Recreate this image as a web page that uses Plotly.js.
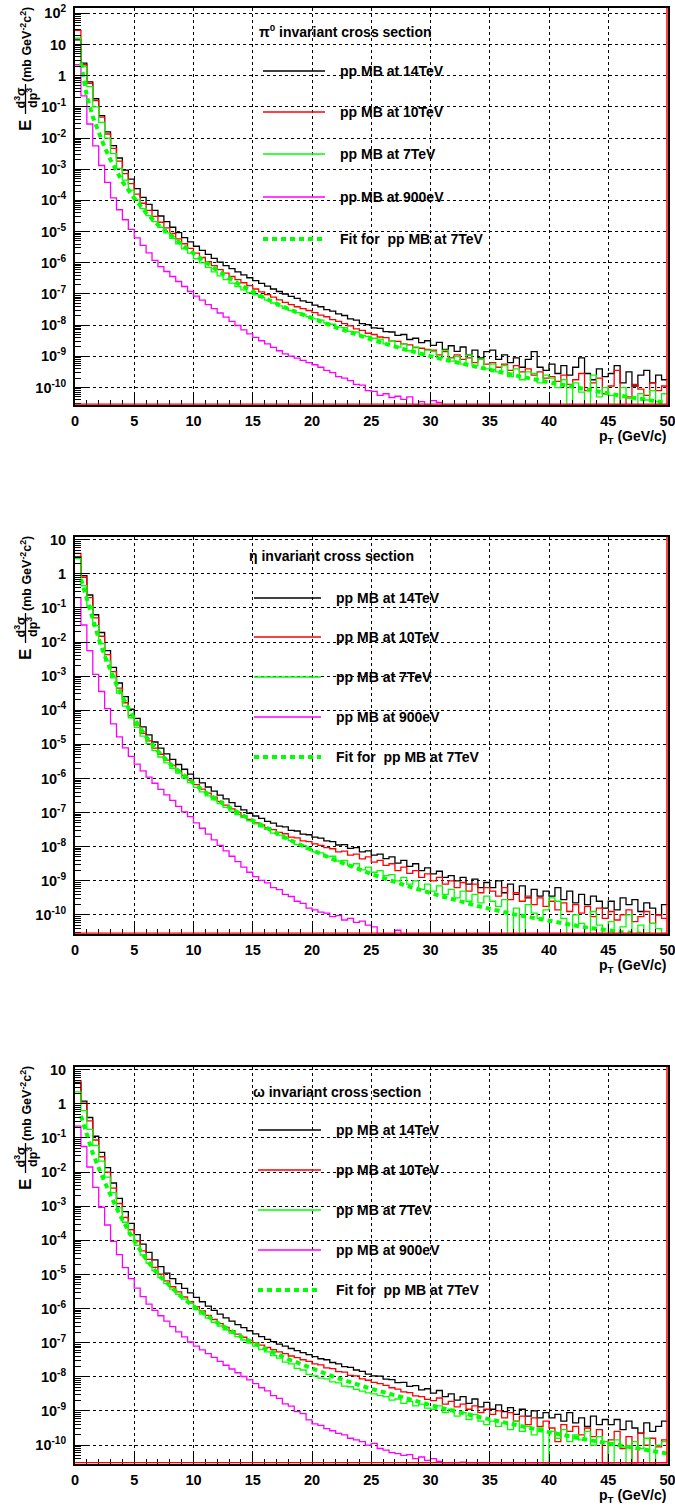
<!DOCTYPE html>
<html>
<head>
<meta charset="utf-8">
<script src="https://cdn.plot.ly/plotly-3.0.1.min.js"></script>
<style>
html,body{margin:0;padding:0;background:#ffffff;}
#chart{width:675px;height:1510px;}
</style>
</head>
<body>
<div id="chart"></div>
<script>
// ---------------- categories / tick labels ----------------
// pT bin edges (GeV/c), 0.5 GeV wide bins from 0 to 50
const pT_edges = Array.from({length: 101}, (_, i) => i * 0.5);
// pT points where the fit curve is sampled
const fit_pT = [0.5,1,1.5,2,2.5,3,3.5,4,5,6,7,8,9,10,11,12,14,16,18,20,22,25,28,31,34,37,40,43,46,50];

const x_tick_values = [0,5,10,15,20,25,30,35,40,45,50];
const x_tick_labels = ["0","5","10","15","20","25","30","35","40","45","50"];
const y_tick_values_pi0 = [1e2,1e1,1,1e-1,1e-2,1e-3,1e-4,1e-5,1e-6,1e-7,1e-8,1e-9,1e-10];
const y_tick_labels_pi0 = ["10<sup>2</sup>","10","1","10<sup>-1</sup>","10<sup>-2</sup>","10<sup>-3</sup>","10<sup>-4</sup>","10<sup>-5</sup>","10<sup>-6</sup>","10<sup>-7</sup>","10<sup>-8</sup>","10<sup>-9</sup>","10<sup>-10</sup>"];
const y_tick_values_meson = [1e1,1,1e-1,1e-2,1e-3,1e-4,1e-5,1e-6,1e-7,1e-8,1e-9,1e-10];
const y_tick_labels_meson = ["10","1","10<sup>-1</sup>","10<sup>-2</sup>","10<sup>-3</sup>","10<sup>-4</sup>","10<sup>-5</sup>","10<sup>-6</sup>","10<sup>-7</sup>","10<sup>-8</sup>","10<sup>-9</sup>","10<sup>-10</sup>"];

const series_labels = ["pp MB at 14TeV","pp MB at 10TeV","pp MB at 7TeV","pp MB at 900eV","Fit for\u00a0 pp MB at 7TeV"];
const panel_titles = ["\u03c0<sup>0</sup> invariant cross section","\u03b7 invariant cross section","\u03c9 invariant cross section"];

// ---------------- values: log10 of E d3sigma/dp3 per pT bin (null = empty bin) ----------------
const pi0_14TeV = [
1.15,0.4,-0.2,-0.74,-1.28,-1.8,-2.24,-2.64,-3.03,-3.32,
-3.62,-3.9,-4.13,-4.32,-4.5,-4.68,-4.86,-5.03,-5.19,-5.33,
-5.47,-5.6,-5.73,-5.86,-5.98,-6.09,-6.19,-6.29,-6.39,-6.48,
-6.57,-6.66,-6.75,-6.84,-6.92,-7.0,-7.08,-7.14,-7.22,-7.27,
-7.36,-7.41,-7.5,-7.55,-7.64,-7.69,-7.8,-7.84,-7.95,-7.98,
-8.09,-8.1,-8.21,-8.22,-8.33,-8.3,-8.46,-8.42,-8.56,-8.5,
-8.65,-8.55,-8.78,-8.66,-8.84,-8.7,-8.95,-8.8,-9.05,-8.85,
-8.8,-9.1,-8.95,-9.2,-9.05,-9.35,-9.1,-8.85,-9.35,-9.45,
-9.25,-9.55,-9.3,-9.6,-9.35,-9.05,-9.55,-9.75,-9.4,-9.65,
-9.55,-9.3,-9.85,-9.5,-9.95,-9.6,-9.45,-9.85,-9.6,-9.75];
const pi0_10TeV = [
1.45,0.35,-0.25,-0.8,-1.33,-1.87,-2.33,-2.74,-3.14,-3.46,
-3.8,-4.09,-4.32,-4.51,-4.7,-4.88,-5.06,-5.23,-5.39,-5.54,
-5.69,-5.83,-5.96,-6.09,-6.22,-6.33,-6.44,-6.54,-6.64,-6.73,
-6.84,-6.93,-7.02,-7.1,-7.19,-7.27,-7.34,-7.41,-7.47,-7.53,
-7.6,-7.68,-7.73,-7.82,-7.88,-7.95,-8.02,-8.12,-8.17,-8.26,
-8.3,-8.38,-8.4,-8.5,-8.52,-8.6,-8.63,-8.72,-8.74,-8.78,
-8.8,-8.95,-8.85,-9.05,-8.95,-9.1,-9.05,-9.2,-9.1,-9.25,
-9.2,-9.35,-9.25,-9.45,-9.3,-9.5,-9.4,-9.6,-9.5,-9.7,
-9.65,-9.8,-9.6,-9.9,-9.75,-9.55,-10.1,-9.85,-9.7,-10.2,
-9.95,-9.45,null,-10.3,-9.9,-10.05,-10.25,-9.85,-10.1,-9.95];
const pi0_7TeV = [
1.2,0.3,-0.35,-1.0,-1.5,-2.0,-2.5,-2.97,-3.35,-3.67,
-3.98,-4.26,-4.49,-4.68,-4.86,-5.04,-5.22,-5.39,-5.55,-5.69,
-5.87,-6.0,-6.15,-6.29,-6.42,-6.54,-6.65,-6.76,-6.87,-6.96,
-7.03,-7.11,-7.2,-7.29,-7.38,-7.46,-7.53,-7.6,-7.67,-7.73,
-7.8,-7.84,-7.93,-7.97,-8.06,-8.08,-8.2,-8.22,-8.33,-8.36,
-8.42,-8.45,-8.6,-8.5,-8.7,-8.6,-8.82,-8.7,-8.95,-8.8,
-8.85,-9.05,-8.8,-9.15,-9.0,-9.25,-8.95,-9.3,-9.1,-9.4,
-9.25,-9.5,-9.3,-9.65,-9.4,-9.75,-9.5,-9.55,-9.85,-9.6,
-9.7,-10.0,-9.75,null,-9.85,-10.15,null,-9.6,-10.3,-10.0,
-10.25,null,-10.0,-10.35,null,-10.2,-10.4,-10.1,-10.45,-10.2];
const pi0_900GeV = [
0.35,-0.65,-1.55,-2.25,-2.88,-3.42,-3.92,-4.3,-4.62,-4.93,
-5.2,-5.44,-5.68,-5.92,-6.12,-6.28,-6.44,-6.6,-6.76,-6.92,
-7.07,-7.2,-7.34,-7.47,-7.61,-7.74,-7.88,-8.01,-8.15,-8.28,
-8.39,-8.5,-8.6,-8.71,-8.82,-8.92,-8.99,-9.06,-9.13,-9.2,
-9.27,-9.35,-9.45,-9.52,-9.65,-9.7,-9.78,-9.9,-9.92,-10.1,
-10.12,-10.25,-10.2,-10.32,-10.28,-10.38,-10.3,null,-10.45,null,
-10.42,-10.48,null,null,null,null,null,null,null,null,
null,null,null,null,null,null,null,null,null,null,
null,null,null,null,null,null,null,null,null,null,
null,null,null,null,null,null,null,null,null,null];
const pi0_fit_7TeV = [0.4,-0.65,-1.32,-1.85,-2.3,-2.7,-3.08,-3.4,-3.93,-4.4,-4.78,-5.07,-5.4,-5.7,-5.98,-6.24,-6.72,-7.13,-7.48,-7.78,-8.07,-8.46,-8.8,-9.09,-9.35,-9.6,-9.83,-10.05,-10.26,-10.5];

const eta_14TeV = [
0.5,-0.05,-0.62,-1.2,-1.72,-2.25,-2.74,-3.2,-3.6,-3.97,
-4.24,-4.49,-4.72,-4.93,-5.11,-5.28,-5.44,-5.59,-5.73,-5.87,
-6.0,-6.13,-6.25,-6.37,-6.49,-6.6,-6.71,-6.82,-6.92,-7.02,
-7.1,-7.17,-7.26,-7.31,-7.4,-7.42,-7.52,-7.54,-7.63,-7.65,
-7.72,-7.75,-7.83,-7.85,-7.95,-7.94,-8.05,-8.03,-8.15,-8.12,
-8.25,-8.22,-8.35,-8.3,-8.48,-8.4,-8.58,-8.5,-8.7,-8.62,
-8.8,-8.72,-8.9,-8.85,-9.0,-8.9,-9.1,-8.95,-9.2,-9.05,
-9.2,-9.0,-9.35,-9.1,-9.4,-9.15,-9.5,-9.25,-9.45,-9.3,
-9.45,-9.2,-9.55,-9.3,-9.65,-9.4,-9.7,-9.45,-9.6,-9.8,
-9.6,-9.85,-9.5,-9.7,-9.55,-9.9,-9.65,-9.8,-10.0,-9.7];
const eta_10TeV = [
0.6,-0.1,-0.7,-1.29,-1.83,-2.37,-2.87,-3.35,-3.78,-4.16,
-4.43,-4.68,-4.9,-5.11,-5.29,-5.46,-5.62,-5.77,-5.91,-6.05,
-6.18,-6.31,-6.43,-6.55,-6.67,-6.78,-6.89,-7.0,-7.1,-7.2,
-7.3,-7.36,-7.45,-7.5,-7.58,-7.62,-7.72,-7.74,-7.83,-7.85,
-7.92,-7.96,-8.03,-8.06,-8.15,-8.13,-8.25,-8.22,-8.36,-8.3,
-8.45,-8.4,-8.55,-8.5,-8.7,-8.6,-8.78,-8.7,-8.9,-8.8,
-9.0,-8.9,-9.1,-9.0,-9.2,-9.05,-9.3,-9.1,-9.35,-9.2,
-9.3,-9.45,-9.2,-9.55,-9.35,-9.6,-9.45,-9.7,-9.5,-9.75,
-9.6,-9.85,-9.65,-9.9,-9.7,-9.95,-9.75,-10.05,-9.8,-10.1,
-9.9,-10.15,-10.0,-9.85,-10.2,-10.05,-9.9,-10.25,-10.0,-10.1];
const eta_7TeV = [
0.45,-0.35,-0.95,-1.52,-2.05,-2.55,-3.05,-3.5,-3.88,-4.22,
-4.5,-4.76,-4.98,-5.18,-5.37,-5.54,-5.7,-5.84,-5.98,-6.12,
-6.26,-6.39,-6.51,-6.63,-6.74,-6.85,-6.96,-7.06,-7.15,-7.24,
-7.33,-7.42,-7.49,-7.6,-7.66,-7.76,-7.82,-7.93,-7.97,-8.08,
-8.15,-8.18,-8.3,-8.28,-8.42,-8.4,-8.55,-8.5,-8.68,-8.6,
-8.75,-8.7,-8.85,-8.82,-9.0,-8.9,-9.1,-9.0,-9.25,-9.1,
-9.3,-9.15,-9.4,-9.25,-9.5,-9.3,-9.6,-9.4,-9.65,-9.45,
-9.6,-9.75,-9.55,null,-9.8,null,-9.7,-9.95,-10.1,-9.85,
-9.5,-9.6,-10.1,null,-10.0,-10.25,null,-9.9,-10.3,null,
-10.2,null,-10.35,-10.0,null,-10.3,null,-10.25,-10.4,null];
const eta_900GeV = [
-0.7,-1.5,-2.25,-2.95,-3.45,-3.95,-4.4,-4.78,-5.1,-5.35,
-5.58,-5.78,-5.96,-6.14,-6.32,-6.48,-6.64,-6.82,-6.98,-7.12,
-7.3,-7.46,-7.63,-7.8,-7.96,-8.12,-8.28,-8.44,-8.6,-8.75,
-8.88,-8.99,-9.06,-9.2,-9.26,-9.4,-9.46,-9.6,-9.66,-9.8,
-9.85,-9.92,-9.95,-10.05,-10.02,-10.15,-10.1,-10.22,-10.18,-10.3,
-10.35,null,null,null,-10.45,null,null,null,null,null,
null,null,null,null,null,null,null,null,null,null,
null,null,null,null,null,null,null,null,null,null,
null,null,null,null,null,null,null,null,null,null,
null,null,null,null,null,null,null,null,null,null];
const eta_fit_7TeV = [-0.15,-0.75,-1.35,-1.9,-2.4,-2.85,-3.25,-3.6,-4.25,-4.78,-5.2,-5.56,-5.86,-6.14,-6.4,-6.63,-7.05,-7.43,-7.78,-8.1,-8.4,-8.8,-9.15,-9.46,-9.74,-9.98,-10.18,-10.36,-10.5,-10.62];

const omega_14TeV = [
0.62,0.08,-0.4,-0.95,-1.42,-1.87,-2.32,-2.77,-3.16,-3.5,
-3.83,-4.11,-4.35,-4.57,-4.77,-4.96,-5.12,-5.27,-5.41,-5.54,
-5.67,-5.8,-5.93,-6.05,-6.16,-6.27,-6.37,-6.47,-6.56,-6.65,
-6.74,-6.82,-6.9,-6.97,-7.04,-7.1,-7.17,-7.23,-7.29,-7.35,
-7.41,-7.47,-7.5,-7.58,-7.62,-7.7,-7.72,-7.8,-7.84,-7.92,
-7.97,-7.98,-8.07,-8.08,-8.17,-8.16,-8.28,-8.26,-8.38,-8.35,
-8.48,-8.4,-8.58,-8.5,-8.68,-8.58,-8.78,-8.65,-8.88,-8.75,
-8.95,-8.82,-9.02,-8.9,-9.1,-8.95,-9.15,-9.0,-9.2,-9.05,
-9.2,-9.1,-9.3,-9.05,-9.35,-9.2,-9.45,-9.15,-9.4,-9.25,
-9.4,-9.25,-9.55,-9.3,-9.5,-9.65,-9.35,-9.6,-9.45,-9.3];
const omega_10TeV = [
0.68,0.02,-0.5,-1.06,-1.55,-2.0,-2.47,-2.92,-3.33,-3.69,
-4.02,-4.31,-4.56,-4.79,-4.99,-5.19,-5.36,-5.51,-5.66,-5.8,
-5.94,-6.07,-6.2,-6.32,-6.44,-6.55,-6.65,-6.75,-6.84,-6.93,
-7.0,-7.07,-7.14,-7.2,-7.27,-7.32,-7.39,-7.44,-7.5,-7.55,
-7.62,-7.65,-7.74,-7.76,-7.85,-7.86,-7.96,-7.97,-8.06,-8.1,
-8.16,-8.2,-8.25,-8.32,-8.36,-8.44,-8.46,-8.56,-8.58,-8.66,
-8.7,-8.62,-8.8,-8.72,-8.88,-8.8,-8.95,-8.85,-9.05,-8.95,
-9.1,-9.0,-9.2,-9.05,-9.3,-9.15,-9.4,-9.2,-9.45,-9.3,
-9.5,-9.9,-9.4,-9.6,-9.45,-9.7,-9.5,-9.75,-9.55,null,
-9.85,-9.6,-10.1,-9.75,null,-9.65,-10.0,-9.8,-10.05,-9.85];
const omega_7TeV = [
0.35,-0.2,-0.75,-1.22,-1.68,-2.15,-2.6,-3.05,-3.47,-3.83,
-4.15,-4.43,-4.67,-4.89,-5.09,-5.27,-5.43,-5.58,-5.72,-5.85,
-6.03,-6.16,-6.28,-6.4,-6.51,-6.62,-6.72,-6.82,-6.92,-7.01,
-7.1,-7.2,-7.27,-7.38,-7.45,-7.57,-7.62,-7.75,-7.8,-7.93,
-7.97,-8.04,-8.06,-8.15,-8.18,-8.27,-8.29,-8.37,-8.42,-8.47,
-8.5,-8.55,-8.58,-8.68,-8.65,-8.78,-8.72,-8.85,-8.8,-8.92,
-8.95,-8.85,-9.05,-8.95,-9.15,-9.05,-9.25,-9.1,-9.3,-9.4,
-9.3,-9.45,-9.35,-9.55,-9.3,-9.6,-9.45,-9.7,-9.5,null,
-9.6,-9.8,-9.55,-9.9,-9.7,-9.85,-9.6,-10.0,-9.75,-9.9,
null,-9.85,-10.05,null,-9.9,-10.1,-9.8,null,-10.0,-9.9];
const omega_900GeV = [
-0.65,-1.25,-1.85,-2.45,-3.03,-3.55,-4.03,-4.42,-4.8,-5.12,
-5.4,-5.65,-5.87,-6.05,-6.21,-6.37,-6.53,-6.68,-6.83,-6.98,
-7.1,-7.21,-7.32,-7.43,-7.55,-7.66,-7.77,-7.88,-7.99,-8.09,
-8.2,-8.32,-8.41,-8.55,-8.63,-8.79,-8.86,-9.02,-9.08,-9.26,
-9.38,-9.42,-9.52,-9.58,-9.66,-9.7,-9.8,-9.85,-9.9,-10.0,
-9.95,-10.1,-10.15,-10.22,-10.25,-10.3,-10.28,-10.4,-10.35,-10.45,
-10.4,-10.48,null,null,null,-10.5,null,null,null,null,
null,null,null,null,null,null,null,null,null,null,
null,null,null,null,null,null,null,null,null,null,
null,null,null,null,null,null,null,null,null,null];
const omega_fit_7TeV = [-0.35,-0.93,-1.45,-1.88,-2.3,-2.68,-3.05,-3.4,-4.02,-4.55,-5.0,-5.35,-5.66,-5.93,-6.18,-6.41,-6.82,-7.17,-7.48,-7.76,-8.02,-8.35,-8.65,-8.92,-9.17,-9.4,-9.62,-9.83,-10.02,-10.25];

// ---------------- drawing ----------------
const W = 675, H = 1510;
const FONT = 'Liberation Sans, Arial, Helvetica, sans-serif';
const series_colors = ['#000000', '#ff0000', '#00ff00', '#ff00ff'];
const fit_color = '#00ff00';
const FIT_DASH = '5px,4px';

const panels = [
  {hists: [pi0_14TeV, pi0_10TeV, pi0_7TeV, pi0_900GeV], fit: pi0_fit_7TeV,
   top: 8, bottom: 405, yrange: [-10.56, 2.17], tv: y_tick_values_pi0, tt: y_tick_labels_pi0,
   title: panel_titles[0], dy: 0,
   leg: {tx: 257, ty: 31, lx0: 263, lx1: 325, textx: 338, rows: [71, 112, 154, 197, 239]}},
  {hists: [eta_14TeV, eta_10TeV, eta_7TeV, eta_900GeV], fit: eta_fit_7TeV,
   top: 537, bottom: 934, yrange: [-10.56, 1.08], tv: y_tick_values_meson, tt: y_tick_labels_meson,
   title: panel_titles[1], dy: 529,
   leg: {tx: 247, ty: 556, lx0: 254, lx1: 321, textx: 334, rows: [598, 637, 677, 717, 757]}},
  {hists: [omega_14TeV, omega_10TeV, omega_7TeV, omega_900GeV], fit: omega_fit_7TeV,
   top: 1067, bottom: 1463.5, yrange: [-10.54, 1.08], tv: y_tick_values_meson, tt: y_tick_labels_meson,
   title: panel_titles[2], dy: 1059,
   leg: {tx: 251, ty: 1092, lx0: 258, lx1: 321, textx: 334, rows: [1130, 1170, 1210, 1250, 1290]}}
];

const px = x => x / W;
const py = y => 1 - y / H;

const traces = [];
const shapes = [];
const annotations = [];
const layout = {
  width: W, height: H,
  margin: {l: 0, r: 0, t: 0, b: 0, pad: 0},
  paper_bgcolor: '#ffffff', plot_bgcolor: '#ffffff',
  showlegend: false,
  font: {family: FONT, color: '#000000', size: 14}
};

const X0 = 75, X1 = 667.5;

panels.forEach((p, i) => {
  const sfx = i === 0 ? '' : String(i + 1);
  const floor = Math.pow(10, p.yrange[0]);
  p.hists.forEach((arr, j) => {
    const y = arr.map(v => v === null ? floor : Math.pow(10, v));
    y.push(y[y.length - 1]);
    traces.push({type: 'scatter', mode: 'lines', x: pT_edges, y: y,
      xaxis: 'x' + sfx, yaxis: 'y' + sfx, hoverinfo: 'skip',
      line: {color: series_colors[j], width: 1.3, shape: 'hv'}});
  });
  traces.push({type: 'scatter', mode: 'lines', x: fit_pT, y: p.fit.map(v => Math.pow(10, v)),
    xaxis: 'x' + sfx, yaxis: 'y' + sfx, hoverinfo: 'skip',
    line: {color: fit_color, width: 4, dash: FIT_DASH}});

  layout['xaxis' + sfx] = {
    domain: [X0 / W, X1 / W], range: [0, 50], anchor: 'y' + sfx,
    tickmode: 'array', tickvals: x_tick_values, ticktext: x_tick_labels,
    ticks: 'inside', ticklen: 10, tickwidth: 1, tickcolor: '#000000',
    minor: {tick0: 0, dtick: 1, ticks: 'inside', ticklen: 5, tickwidth: 1, tickcolor: '#000000', showgrid: false},
    showgrid: true, gridcolor: '#000000', gridwidth: 1, griddash: 'dot',
    showline: true, linecolor: '#000000', linewidth: 2, mirror: true, zeroline: false,
    ticklabelstandoff: 2, ticklabeloverflow: 'allow',
    tickfont: {family: FONT, size: 14.5, color: '#000000', weight: 'bold'}
  };
  layout['yaxis' + sfx] = {
    domain: [py(p.bottom), py(p.top)], type: 'log', range: p.yrange, anchor: 'x' + sfx,
    tickmode: 'array', tickvals: p.tv, ticktext: p.tt,
    ticks: 'inside', ticklen: 12, tickwidth: 1, tickcolor: '#000000',
    minor: {dtick: 'D1', ticks: 'inside', ticklen: 6, tickwidth: 1, tickcolor: '#000000', showgrid: false},
    showgrid: true, gridcolor: '#000000', gridwidth: 1, griddash: 'dot',
    showline: true, linecolor: '#000000', linewidth: 2, mirror: true, zeroline: false,
    ticklabelstandoff: 4, ticklabeloverflow: 'allow',
    tickfont: {family: FONT, size: 14.5, color: '#000000', weight: 'bold'}
  };

  // red right and bottom frame edges
  shapes.push({type: 'line', xref: 'paper', yref: 'paper', layer: 'above',
    x0: px(X1 - 0.5), x1: px(X1 - 0.5), y0: py(p.top), y1: py(p.bottom),
    line: {color: '#ff0000', width: 1.5}});
  shapes.push({type: 'line', xref: 'paper', yref: 'paper', layer: 'above',
    x0: px(X0), x1: px(X1), y0: py(p.bottom - 0.8), y1: py(p.bottom - 0.8),
    line: {color: '#ff0000', width: 1.2}});

  // legend
  const L = p.leg;
  annotations.push({xref: 'paper', yref: 'paper', x: px(L.tx), y: py(L.ty), xanchor: 'left', yanchor: 'middle',
    text: p.title, showarrow: false, font: {family: FONT, size: 14, color: '#000000', weight: 'bold'}});
  const legColors = series_colors.concat([fit_color]);
  series_labels.forEach((lab, j) => {
    const isFit = j === 4;
    shapes.push({type: 'line', xref: 'paper', yref: 'paper', layer: 'above',
      x0: px(L.lx0), x1: px(L.lx1), y0: py(L.rows[j]), y1: py(L.rows[j]),
      line: {color: legColors[j], width: isFit ? 4 : 1.5, dash: isFit ? FIT_DASH : 'solid'}});
    annotations.push({xref: 'paper', yref: 'paper', x: px(L.textx), y: py(L.rows[j]), xanchor: 'left', yanchor: 'middle',
      text: lab, showarrow: false, font: {family: FONT, size: 14, color: '#000000', weight: 'bold'}});
  });

  // x-axis title
  annotations.push({xref: 'paper', yref: 'paper', x: px(X1), y: py(437 + p.dy), xanchor: 'right', yanchor: 'middle',
    text: 'p<sub>T</sub> (GeV/c)', showarrow: false, font: {family: FONT, size: 14, color: '#000000', weight: 'bold'}});

  // y-axis title: E d3sigma/dp3 (mb GeV-2 c2), rotated
  const yf = {family: FONT, size: 12.5, color: '#000000', weight: 'bold'};
  const ff = {family: FONT, size: 12.5, color: '#000000', weight: 'bold'};
  annotations.push({xref: 'paper', yref: 'paper', x: px(26), y: py(45 + p.dy), xanchor: 'center', yanchor: 'middle',
    textangle: -90, text: '(mb GeV<sup>-2</sup>c<sup>2</sup>)', showarrow: false, font: yf});
  annotations.push({xref: 'paper', yref: 'paper', x: px(19.5), y: py(98 + p.dy), xanchor: 'center', yanchor: 'middle',
    textangle: -90, text: 'd<sup>3</sup>\u03c3', showarrow: false, font: ff});
  annotations.push({xref: 'paper', yref: 'paper', x: px(32), y: py(98 + p.dy), xanchor: 'center', yanchor: 'middle',
    textangle: -90, text: 'dp<sup>3</sup>', showarrow: false, font: ff});
  annotations.push({xref: 'paper', yref: 'paper', x: px(25), y: py(126 + p.dy), xanchor: 'center', yanchor: 'middle',
    textangle: -90, text: 'E', showarrow: false, font: {family: FONT, size: 17, color: '#000000', weight: 'bold'}});
  shapes.push({type: 'line', xref: 'paper', yref: 'paper', layer: 'above',
    x0: px(25.5), x1: px(25.5), y0: py(84 + p.dy), y1: py(114 + p.dy),
    line: {color: '#000000', width: 1.3}});
});

layout.shapes = shapes;
layout.annotations = annotations;

Plotly.newPlot('chart', traces, layout, {displayModeBar: false, staticPlot: true, responsive: false});
</script>
</body>
</html>
